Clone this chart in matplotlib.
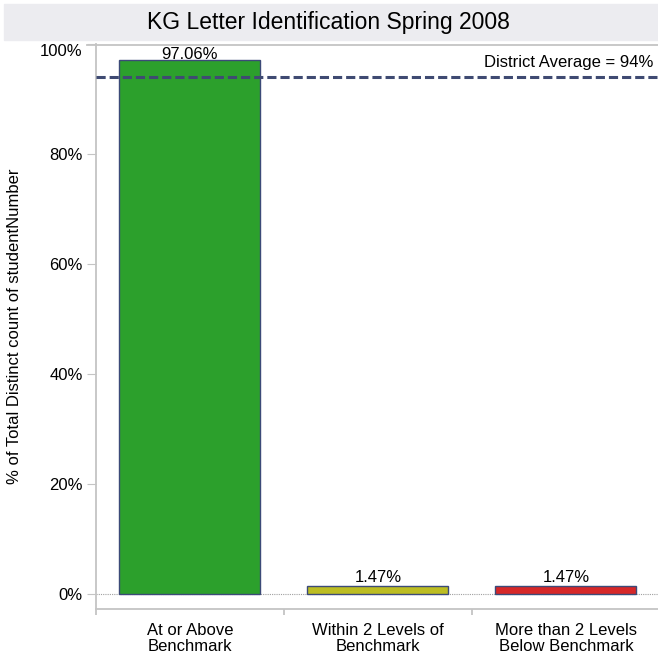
import matplotlib
matplotlib.use("Agg")
import matplotlib.pyplot as plt
from matplotlib.patches import Rectangle
from matplotlib.lines import Line2D

plt.rcParams['font.family'] = ['Liberation Sans', 'DejaVu Sans']

title = "KG Letter Identification Spring 2008"
categories = ["At or Above\nBenchmark", "Within 2 Levels of\nBenchmark", "More than 2 Levels\nBelow Benchmark"]
values = [97.06, 1.47, 1.47]
bar_colors = ["#2ca02c", "#bcbd22", "#d62728"]
district_avg = 94
yticks = [0, 20, 40, 60, 80, 100]

W, H = 658, 657
fs = 12
fig = plt.figure(figsize=(W / 100, H / 100), dpi=100)

# title band
fig.patches.append(Rectangle((4 / W, 1 - 40 / H), 1 - 4 / W, 36 / H,
                             transform=fig.transFigure, color="#ececf0", zorder=0))
fig.text(328 / W, 1 - 23 / H, title, ha="center", va="center", fontsize=16.5)

ax = fig.add_axes([96 / W, 1 - 609 / H, 1 - 96 / W, (609 - 44) / H])
x = list(range(len(values)))
ax.bar(x, values, width=0.75, color=bar_colors, edgecolor="#3c4a78", linewidth=1, zorder=3)
for xi, v in zip(x, values):
    off = -1.5 if v > 90 else 1
    ax.annotate(f"{v:.2f}%", (xi, v), xytext=(0, off), textcoords="offset points",
                ha="center", va="bottom", fontsize=fs, zorder=5)

ax.set_xlim(-0.5, 2.49)
ax.set_ylim(-2.727, 100)

ax.axhline(0, color="#a0a0a0", lw=0.8, ls=(0, (1, 1)), zorder=2)
ax.axhline(district_avg, color="#3f4a72", lw=2.2, dashes=(3, 1.3), zorder=4)
ax.text(2.465, district_avg + 1.3, f"District Average = {district_avg}%",
        ha="right", va="bottom", fontsize=fs, zorder=5)

for s in ["top", "right"]:
    ax.spines[s].set_visible(False)
ax.spines["left"].set_color("#c4c4c4")
ax.spines["left"].set_linewidth(1.3)
ax.spines["bottom"].set_color("#c4c4c4")
ax.spines["bottom"].set_linewidth(1.3)

ax.set_yticks(yticks)
ax.set_yticklabels([f"{t}%" for t in yticks], fontsize=fs)
ax.get_yticklabels()[-1].set_va("top")
ax.tick_params(axis="y", direction="out", length=6.5, width=0.8, color="#c4c4c4", pad=3)

# category dividers as ticks, labels at centers
ax.set_xticks([-0.5, 0.5, 1.5])
ax.set_xticklabels([])
ax.tick_params(axis="x", direction="out", length=4.5, width=1.3, color="#c4c4c4")
for xi, c in zip(x, categories):
    ax.annotate(c, (xi, 0), xycoords=ax.get_xaxis_transform(), xytext=(0, -10),
                textcoords="offset points", ha="center", va="top",
                fontsize=fs, linespacing=1.12)

ax.set_ylabel("% of Total Distinct count of studentNumber", fontsize=fs)
ax.yaxis.set_label_coords((22 - 96) / (W - 96), 0.5)

# top border line
fig.lines.append(Line2D([87 / W, 1], [1 - 45 / H, 1 - 45 / H], transform=fig.transFigure,
                        color="#c4c4c4", lw=1.3))

fig.savefig("out.png", dpi=100)
